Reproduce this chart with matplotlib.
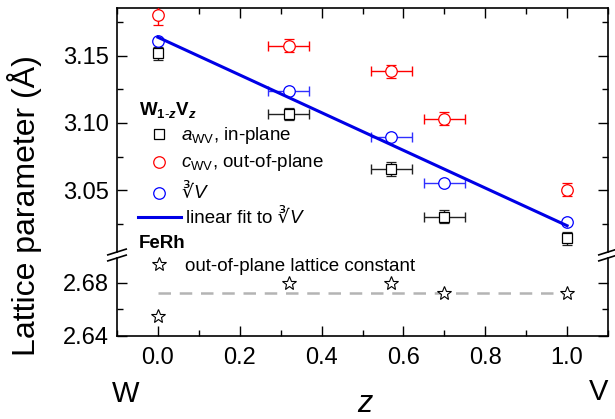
import numpy as np
import matplotlib
matplotlib.use('Agg')
import matplotlib.pyplot as plt
from matplotlib.lines import Line2D
from matplotlib.ticker import MultipleLocator, FormatStrFormatter

plt.rcParams['font.family'] = ['Liberation Sans', 'DejaVu Sans']
plt.rcParams['mathtext.fontset'] = 'custom'
plt.rcParams['mathtext.rm'] = 'Liberation Sans'
plt.rcParams['mathtext.it'] = 'Liberation Sans:italic'
plt.rcParams['mathtext.bf'] = 'Liberation Sans:bold'
plt.rcParams['mathtext.bfit'] = 'Liberation Sans:bold:italic'

# ---------------- data ----------------
z = np.array([0.0, 0.32, 0.57, 0.70, 1.0])
z_err = np.array([0.0, 0.05, 0.05, 0.05, 0.0])
a_wv = np.array([3.1518, 3.1070, 3.0658, 3.0304, 3.0143])
a_err = np.array([0.005, 0.0045, 0.005, 0.005, 0.005])
c_wv = np.array([3.1800, 3.1574, 3.1383, 3.1032, 3.0506])
c_err = np.array([0.007, 0.005, 0.005, 0.005, 0.005])
cbrt_v = np.array([3.1609, 3.1240, 3.0896, 3.0552, 3.0262])
ferh = np.array([2.6551, 2.6800, 2.6800, 2.6720, 2.6720])
ferh_ref = 2.672

W, H = 615, 419
fig = plt.figure(figsize=(W / 100, H / 100), dpi=100)


def fx(px):
    return px / W


def fy(py):
    return 1 - py / H


L, R = 117, 608
top_y, brk_u, brk_l, bot_y = 8, 252, 258, 335.7
ax_u = fig.add_axes([fx(L), fy(brk_u), fx(R) - fx(L), fy(top_y) - fy(brk_u)])
ax_l = fig.add_axes([fx(L), fy(bot_y), fx(R) - fx(L), fy(brk_l) - fy(bot_y)])

ax_u.set_ylim(3.0042, 3.1854)
ax_l.set_ylim(2.64, 2.6986)
for ax in (ax_u, ax_l):
    ax.set_xlim(-0.1, 1.1)
    ax.xaxis.set_major_locator(MultipleLocator(0.2))
    ax.xaxis.set_minor_locator(MultipleLocator(0.1))
    ax.xaxis.set_major_formatter(FormatStrFormatter('%.1f'))
    for s in ax.spines.values():
        s.set_linewidth(1.2)
    ax.tick_params(which='both', direction='in', width=1.0, labelsize=17)
    ax.tick_params(which='major', length=7)
    ax.tick_params(which='minor', length=4)

ax_u.yaxis.set_major_locator(MultipleLocator(0.05))
ax_u.yaxis.set_minor_locator(MultipleLocator(0.025))
ax_u.yaxis.set_major_formatter(FormatStrFormatter('%.2f'))
ax_l.yaxis.set_major_locator(MultipleLocator(0.04))
ax_l.yaxis.set_minor_locator(MultipleLocator(0.02))
ax_l.yaxis.set_major_formatter(FormatStrFormatter('%.2f'))

ax_u.spines['bottom'].set_visible(False)
ax_l.spines['top'].set_visible(False)
ax_u.tick_params(which='both', top=True, bottom=False, labelbottom=False,
                 right=True, left=True, pad=6)
ax_l.tick_params(which='both', top=False, bottom=True, right=True, left=True)
ax_l.tick_params(axis='y', pad=6)
ax_l.tick_params(axis='x', pad=8)

mask = z_err > 0
red = '#ff0000'
blue = '#0000ff'

# a_WV
ax_u.errorbar(z[mask], a_wv[mask], xerr=z_err[mask], fmt='none', ecolor='#222222',
              elinewidth=1.0, capsize=3.3, capthick=1.0, zorder=2)
ax_u.errorbar(z, a_wv, yerr=a_err, fmt='s', ms=6.7, mfc='white', mec='black', mew=0.9,
              ecolor='#222222', elinewidth=1.0, capsize=3.3, capthick=1.0, zorder=3)
# c_WV
ax_u.errorbar(z[mask], c_wv[mask], xerr=z_err[mask], fmt='none', ecolor=red,
              elinewidth=1.0, capsize=3.3, capthick=1.0, zorder=2)
ax_u.errorbar(z, c_wv, yerr=c_err, fmt='o', ms=8.3, mfc='white', mec=red, mew=0.9,
              ecolor=red, elinewidth=1.0, capsize=3.3, capthick=1.0, zorder=3)
# cube root V
ax_u.errorbar(z[mask], cbrt_v[mask], xerr=z_err[mask], fmt='none', ecolor='#3030ff',
              elinewidth=1.0, capsize=3.3, capthick=1.0, zorder=2)
ax_u.plot(z, cbrt_v, 'o', ms=8.3, mfc='white', mec=blue, mew=0.9, zorder=3)

# linear fit
slope, icpt = np.polyfit(z, cbrt_v, 1)
zf = np.array([z[0], z[-1]])
ax_u.plot(zf, icpt + slope * zf, color='#0000e6', lw=2.2, zorder=4)

# FeRh
ax_l.plot(zf, [ferh_ref, ferh_ref], color='#b4b4b4', lw=1.8, dashes=(5, 3.5), zorder=2)
ax_l.plot(z, ferh, '*', ms=10, mfc='white', mec='black', mew=0.8, zorder=3)

# break marks
for xc in (L, R):
    for yc in (brk_u, brk_l):
        fig.add_artist(Line2D([fx(xc - 9.2), fx(xc + 9.2)], [fy(yc + 2.9), fy(yc - 2.9)],
                              transform=fig.transFigure, color='black', lw=1.2))

# axis labels
fig.text(fx(25), fy(206), 'Lattice parameter (Å)', rotation=90, ha='center',
         va='center', fontsize=23)
fig.text(fx(364.5), fy(411.5), 'z', style='italic', ha='center', va='baseline', fontsize=22)
fig.text(fx(125.7), fy(401.7), 'W', ha='center', va='baseline', fontsize=21)
fig.text(fx(599), fy(400), 'V', ha='center', va='baseline', fontsize=21)

# legend (manual)
fs = 13.5
fig.text(fx(139), fy(115), r'$\mathbf{W}_{\mathbf{1}\text{-}\mathbfit{z}}\mathbf{V}_{\mathbfit{z}}$',
         ha='left', va='baseline', fontsize=13.5)
fig.text(fx(139), fy(248), 'FeRh', fontweight='bold', ha='left', va='baseline', fontsize=13.5)

fig.add_artist(Line2D([fx(159.3)], [fy(134.3)], transform=fig.transFigure, marker='s',
                      ms=6.7, mfc='white', mec='black', mew=0.9, ls='none'))
fig.add_artist(Line2D([fx(159.3)], [fy(162)], transform=fig.transFigure, marker='o',
                      ms=8.3, mfc='white', mec=red, mew=0.9, ls='none'))
fig.add_artist(Line2D([fx(159.3)], [fy(192.7)], transform=fig.transFigure, marker='o',
                      ms=8.3, mfc='white', mec=blue, mew=0.9, ls='none'))
fig.add_artist(Line2D([fx(138), fx(181)], [fy(217.3), fy(217.3)], transform=fig.transFigure,
                      color='#0000e6', lw=2.2))
fig.add_artist(Line2D([fx(159.3)], [fy(264)], transform=fig.transFigure, marker='*',
                      ms=10, mfc='white', mec='black', mew=0.8, ls='none'))

fig.text(fx(181), fy(140), r'$a_{\mathrm{WV}}$, in-plane', ha='left', va='baseline', fontsize=fs)
fig.text(fx(181), fy(167.3), r'$c_{\mathrm{WV}}$, out-of-plane', ha='left', va='baseline', fontsize=fs)
t1 = fig.text(fx(181), fy(198.3), '∛', family='DejaVu Sans', ha='left', va='baseline', fontsize=fs)
t2 = fig.text(fx(185.7), fy(223.3), 'linear fit to ∛', ha='left', va='baseline', fontsize=fs)
fig.text(fx(185), fy(270.7), 'out-of-plane lattice constant', ha='left', va='baseline', fontsize=fs)

fig.canvas.draw()
r = fig.canvas.get_renderer()
for t, yb in ((t1, 198.3), (t2, 223.3)):
    bb = t.get_window_extent(r)
    fig.text(bb.x1 / W + 0.5 / W, fy(yb), 'V', style='italic', ha='left', va='baseline', fontsize=fs)

fig.savefig('out.png', dpi=100)
